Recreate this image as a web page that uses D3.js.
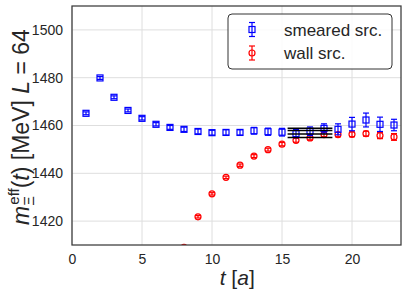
<!DOCTYPE html>
<html>
<head>
<meta charset="utf-8">
<script src="https://cdn.jsdelivr.net/npm/d3@7"></script>
<style>
  body { margin: 0; background: #fff; }
  text { font-family: "Liberation Sans", Arial, sans-serif; fill: #262626; white-space: pre; }
</style>
</head>
<body>
<script>
// effective mass data
var tSmeared = [1,2,3,4,5,6,7,8,9,10,11,12,13,14,15,16,17,18,19,20,21,22,23];
var mSmeared = [1465.1,1479.9,1471.8,1466.3,1463.0,1460.5,1459.2,1458.4,1457.5,1457.0,1457.1,1457.1,1457.8,1457.4,1457.2,1456.6,1457.6,1458.8,1458.4,1460.6,1462.3,1460.5,1460.2];
var eSmeared = [0.6,0.6,0.6,0.6,0.7,0.7,0.8,0.9,1.0,1.0,1.1,1.1,1.4,1.5,1.6,1.7,1.8,1.9,2.3,2.8,2.9,3.0,2.4];

var tWall = [8,9,10,11,12,13,14,15,16,17,18,19,20,21,22,23];
var mWall = [1409.0,1421.8,1431.4,1438.3,1443.4,1447.2,1449.9,1452.2,1453.8,1454.8,1456.2,1456.2,1456.3,1456.6,1455.8,1455.2];
var eWall = [0.4,0.5,0.5,0.5,0.5,0.6,0.6,0.7,0.8,0.8,0.9,0.9,1.0,1.0,1.3,1.4];

// plateau fit band (t range and levels)
var fitRange = [15.4, 18.6];
var fitLevels = [1458.8, 1457.9, 1456.4, 1455.0];

var xTicks = [0,5,10,15,20];
var yTicks = [1420,1440,1460,1480,1500];
var legendLabels = ["smeared src.", "wall src."];

var W = 407, H = 293;
var margin = {left: 72, right: 6, top: 6, bottom: 48};
var iw = W - margin.left - margin.right, ih = H - margin.top - margin.bottom;

var svg = d3.select("body").append("svg").attr("width", W).attr("height", H);

var x = d3.scaleLinear().domain([0, 23.5]).range([0, iw]);
var y = d3.scaleLinear().domain([1410, 1510]).range([ih, 0]);

var g = svg.append("g").attr("transform", "translate(" + margin.left + "," + margin.top + ")");

svg.append("defs").append("clipPath").attr("id", "clip")
  .append("rect").attr("width", iw).attr("height", ih);

// grid
g.selectAll("line.gx").data(xTicks).enter().append("line")
  .attr("x1", d => x(d)).attr("x2", d => x(d)).attr("y1", 0).attr("y2", ih)
  .attr("stroke", "#dedede").attr("stroke-width", 1);
g.selectAll("line.gy").data(yTicks).enter().append("line")
  .attr("x1", 0).attr("x2", iw).attr("y1", d => y(d)).attr("y2", d => y(d))
  .attr("stroke", "#dedede").attr("stroke-width", 1);

// axes
var xAxis = g.append("g").attr("transform", "translate(0," + ih + ")")
  .call(d3.axisBottom(x).tickValues(xTicks).tickSize(0).tickPadding(9));
var yAxis = g.append("g")
  .call(d3.axisLeft(y).tickValues(yTicks).tickFormat(d3.format("d")).tickSize(0).tickPadding(9));
[xAxis, yAxis].forEach(function(a) {
  a.select(".domain").remove();
  a.selectAll("text").attr("font-size", 14).attr("fill", "#262626")
    .attr("font-family", "'Liberation Sans', Arial, sans-serif");
});

var plot = g.append("g").attr("clip-path", "url(#clip)");

function drawSeries(ts, ms, es, color, shape) {
  var data = ts.map((t, i) => ({t: t, m: ms[i], e: es[i]}));
  var sg = plot.append("g");
  var eb = sg.selectAll("g.eb").data(data).enter().append("g")
    .attr("stroke", color).attr("stroke-width", 1.2);
  eb.append("line").attr("x1", d => x(d.t)).attr("x2", d => x(d.t))
    .attr("y1", d => y(d.m - d.e)).attr("y2", d => y(d.m + d.e));
  eb.append("line").attr("x1", d => x(d.t) - 3).attr("x2", d => x(d.t) + 3)
    .attr("y1", d => y(d.m - d.e)).attr("y2", d => y(d.m - d.e));
  eb.append("line").attr("x1", d => x(d.t) - 3).attr("x2", d => x(d.t) + 3)
    .attr("y1", d => y(d.m + d.e)).attr("y2", d => y(d.m + d.e));
  if (shape == "square") {
    sg.selectAll("rect").data(data).enter().append("rect")
      .attr("x", d => x(d.t) - 3).attr("y", d => y(d.m) - 3)
      .attr("width", 6).attr("height", 6)
      .attr("fill", "none").attr("stroke", color).attr("stroke-width", 1.2);
  } else {
    sg.selectAll("circle").data(data).enter().append("circle")
      .attr("cx", d => x(d.t)).attr("cy", d => y(d.m)).attr("r", 3)
      .attr("fill", "none").attr("stroke", color).attr("stroke-width", 1.2);
  }
}

drawSeries(tWall, mWall, eWall, "#ff0000", "circle");
drawSeries(tSmeared, mSmeared, eSmeared, "#0000ff", "square");

plot.selectAll("line.fit").data(fitLevels).enter().append("line")
  .attr("x1", x(fitRange[0])).attr("x2", x(fitRange[1]))
  .attr("y1", d => y(d)).attr("y2", d => y(d))
  .attr("stroke", "#000").attr("stroke-width", 1.5);

// frame
g.append("rect").attr("width", iw).attr("height", ih)
  .attr("fill", "none").attr("stroke", "#3a3a3a").attr("stroke-width", 1.25);

// legend
var lg = svg.append("g").attr("transform", "translate(228,14)");
lg.append("rect").attr("width", 164).attr("height", 55).attr("rx", 4)
  .attr("fill", "#fff").attr("fill-opacity", 0.85)
  .attr("stroke", "#333").attr("stroke-width", 1);
legendLabels.forEach(function(lab, i) {
  var cy = 15.5 + i * 23.5, cx = 24, col = i == 0 ? "#0000ff" : "#ff0000";
  var item = lg.append("g").attr("stroke", col).attr("stroke-width", 1.2);
  item.append("line").attr("x1", cx).attr("x2", cx).attr("y1", cy - 7).attr("y2", cy + 7);
  item.append("line").attr("x1", cx - 3).attr("x2", cx + 3).attr("y1", cy - 7).attr("y2", cy - 7);
  item.append("line").attr("x1", cx - 3).attr("x2", cx + 3).attr("y1", cy + 7).attr("y2", cy + 7);
  if (i == 0) item.append("rect").attr("x", cx - 3).attr("y", cy - 3).attr("width", 6).attr("height", 6).attr("fill", "none");
  else item.append("circle").attr("cx", cx).attr("cy", cy).attr("r", 3).attr("fill", "none");
  lg.append("text").attr("x", 56).attr("y", cy + 6).attr("font-size", 17).text(lab);
});

// x label
var xl = svg.append("text").attr("x", margin.left + x(11.8)).attr("y", 285)
  .attr("text-anchor", "middle").attr("font-size", 21);
xl.append("tspan").attr("font-style", "italic").text("t");
xl.append("tspan").text("\u00A0[");
xl.append("tspan").attr("font-style", "italic").text("a");
xl.append("tspan").text("]");

// y label, built from pieces laid out along the baseline
var yl = svg.append("g").attr("transform", "translate(29,127) rotate(-90)");
var parts = [
  {s: "m", it: true, fs: 23, dy: 0},
  {s: "eff", it: false, fs: 15, dy: -10, stack: true},
  {s: "\u039E", it: false, fs: 15, dy: 5},
  {s: "(", it: false, fs: 23, dy: 0},
  {s: "t", it: true, fs: 23, dy: 0},
  {s: ")\u00A0[MeV]\u00A0", it: false, fs: 23, dy: 0},
  {s: "L", it: true, fs: 23, dy: 0},
  {s: "\u00A0=\u00A064", it: false, fs: 23, dy: 0}
];
var pos = 0, stackStart = 0, stackW = 0, items = [];
parts.forEach(function(p) {
  var t = yl.append("text").attr("font-size", p.fs).attr("font-style", p.it ? "italic" : "normal")
    .attr("y", p.dy).text(p.s);
  var w = t.node().getComputedTextLength();
  if (p.stack) { stackStart = pos; stackW = w; t.attr("x", pos + 1); }
  else if (p.s == "\u039E") { t.attr("x", stackStart); pos = stackStart + Math.max(stackW, w) + 1; }
  else { t.attr("x", pos); pos += w; }
  items.push(t);
});
// centre the whole label
items.forEach(t => t.attr("x", +t.attr("x") - pos / 2));
</script>
</body>
</html>
